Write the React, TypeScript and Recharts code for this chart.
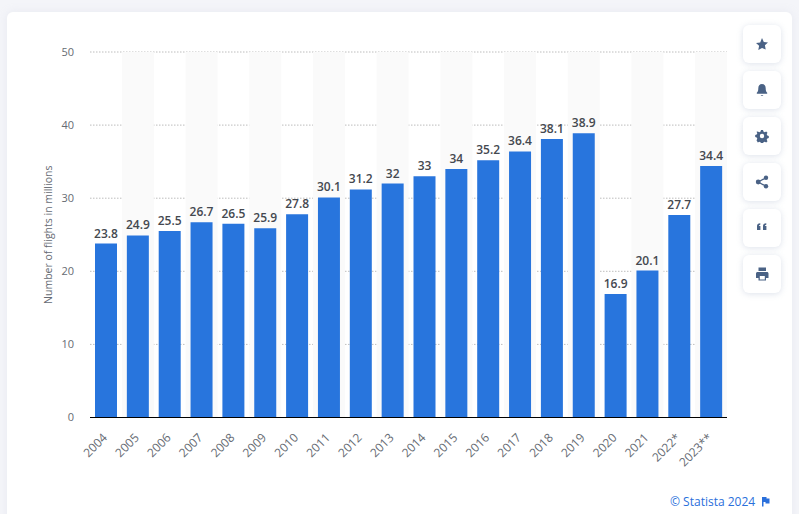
import React from "react";
import { BarChart, Bar, XAxis, YAxis, CartesianGrid, LabelList, Label } from "recharts";

const years = ["2004","2005","2006","2007","2008","2009","2010","2011","2012","2013","2014","2015","2016","2017","2018","2019","2020","2021","2022*","2023**"];
const flights = [23.8,24.9,25.5,26.7,26.5,25.9,27.8,30.1,31.2,32,33,34,35.2,36.4,38.1,38.9,16.9,20.1,27.7,34.4];
const yTicks = [0,10,20,30,40,50];
const rows = years.map((year, i) => ({ year, flights: flights[i] }));
const font = "'Open Sans', sans-serif";

const Shade = (p: any) => {
  if (p.index % 2 === 0) return <g />;
  const extra = (32 - p.width) / 2;
  return <rect x={p.x - extra} y={p.y} width={p.width + 2 * extra} height={p.height} fill="#fafafa" />;
};

const XTick = (p: any) => (
  <text x={p.x + 2} y={p.y + 13} transform={`rotate(-45 ${p.x + 2} ${p.y + 13})`} textAnchor="end" fontFamily={font} fontSize={12} fill="#666b73">{p.payload.value}</text>
);

const icons: React.ReactNode[] = [
  <path d="M6 0.5l1.8 3.9 4.2.5-3.1 2.9.8 4.2L6 10.4l-3.7 2.1.8-4.2L0 5.4l4.2-.5z" />,
  <path d="M6 0.5c-2.4 0-3.7 1.8-3.7 4.2 0 2.6-.6 3.6-1.5 4.6v1h10.4v-1c-.9-1-1.5-2-1.5-4.6C9.7 2.3 8.4.5 6 .5zM4.5 11.4h3L6 12.4z" />,
  <path fillRule="evenodd" d="M5 .5h2l.4 1.6 1.3.6 1.5-.8 1.3 1.4-.8 1.4.6 1.3 1.5.5v2l-1.5.4-.6 1.3.8 1.5-1.3 1.3-1.5-.8-1.3.6-.4 1.5H5l-.4-1.5-1.3-.6-1.5.8L.5 10.7l.8-1.5-.6-1.3L-.8 7.5v-2l1.5-.5.6-1.3-.8-1.4L1.800 1.900l1.500.8 1.300-.6zM6 4.300a2.200 2.200 0 100 4.400 2.200 2.200 0 000-4.400z" />,
  <g><circle cx="10" cy="2.200" r="2.200" /><circle cx="10" cy="10.800" r="2.200" /><circle cx="2.200" cy="6.500" r="2.400" /><path d="M2.200 6.500L10 2.200M2.200 6.500L10 10.800" stroke="#4a6285" strokeWidth="1.300" /></g>,
  <path d="M1 8.500V4.500C1 2.800 2 2 4.300 1.700v1.600c-1 .2-1.300.5-1.300 1.200h1.400v4zM7 8.500V4.500C7 2.800 8 2 10.300 1.700v1.600c-1 .2-1.300.5-1.300 1.200h1.400v4z" />,
  <path fillRule="evenodd" d="M2.500 0h7.500v3.500H2.500zM1.500 4.500h9.500c.8 0 1.500.7 1.500 1.500v4.500h-2.500v2.500H2.500v-2.500H0V6c0-.8.7-1.500 1.500-1.500zM3.800 8.500v3.400h5v-3.400z" />,
];

export default function App() {
  return (
    <div style={{ position: "absolute", left: 0, top: 0, width: 799, height: 514, overflow: "hidden", background: "#f4f5f9" }}>
      <div style={{ position: "absolute", left: 7, top: 12, width: 785, height: 520, background: "#fff", borderRadius: 6, boxShadow: "0 0 8px rgba(200,205,220,0.25)" }} />
      <div style={{ position: "absolute", left: 0, top: 0 }}>
        <BarChart width={799} height={514} data={rows} margin={{ top: 52, right: 72, bottom: 0, left: 0 }} barCategoryGap={5}>
          <CartesianGrid horizontal vertical={false} stroke="#bdbdbd" strokeDasharray="1.500 1.500" />
          <XAxis dataKey="year" interval={0} axisLine={{ stroke: "#000", strokeWidth: 1 }} tickLine={false} tick={<XTick />} height={96.5} />
          <YAxis domain={[0, 50]} ticks={yTicks} width={90} axisLine={false} tickLine={false} tickMargin={10} tick={{ fontFamily: font, fontSize: 11, fill: "#666b73" }}>
            <Label value="Number of flights in millions" angle={-90} position="insideLeft" offset={48} style={{ textAnchor: "middle", fontFamily: font, fontSize: 10.5, fill: "#666b73" }} />
          </YAxis>
          <Bar dataKey="flights" fill="#2875dd" isAnimationActive={false} background={Shade as any}>
            <LabelList dataKey="flights" position="top" offset={6} style={{ fontFamily: font, fontSize: 12, fontWeight: 600, fill: "#44484f" }} />
          </Bar>
        </BarChart>
      </div>
      {icons.map((ic, i) => (
        <div key={i} style={{ position: "absolute", left: 743, top: 25 + i * 46, width: 38, height: 38, background: "#fff", borderRadius: 6, boxShadow: "0 1px 6px rgba(180,190,210,0.45)" }}>
          <svg width="14" height="14" viewBox="-0.500 -0.500 13 14" style={{ position: "absolute", left: 12, top: 12 }} fill="#4a6285">{ic}</svg>
        </div>
      ))}
      <div style={{ position: "absolute", left: 670, top: 494, fontFamily: font, fontSize: 12, color: "#2a6fdb", whiteSpace: "nowrap", lineHeight: "16px" }}>© Statista 2024</div>
      <svg style={{ position: "absolute", left: 761, top: 497 }} width="9" height="10" viewBox="0 0 9 10"><path d="M1 0h4.500v1.500H8.500v5H4.500V5H2.500v4.500H1z" fill="#2a6fdb" /></svg>
    </div>
  );
}
